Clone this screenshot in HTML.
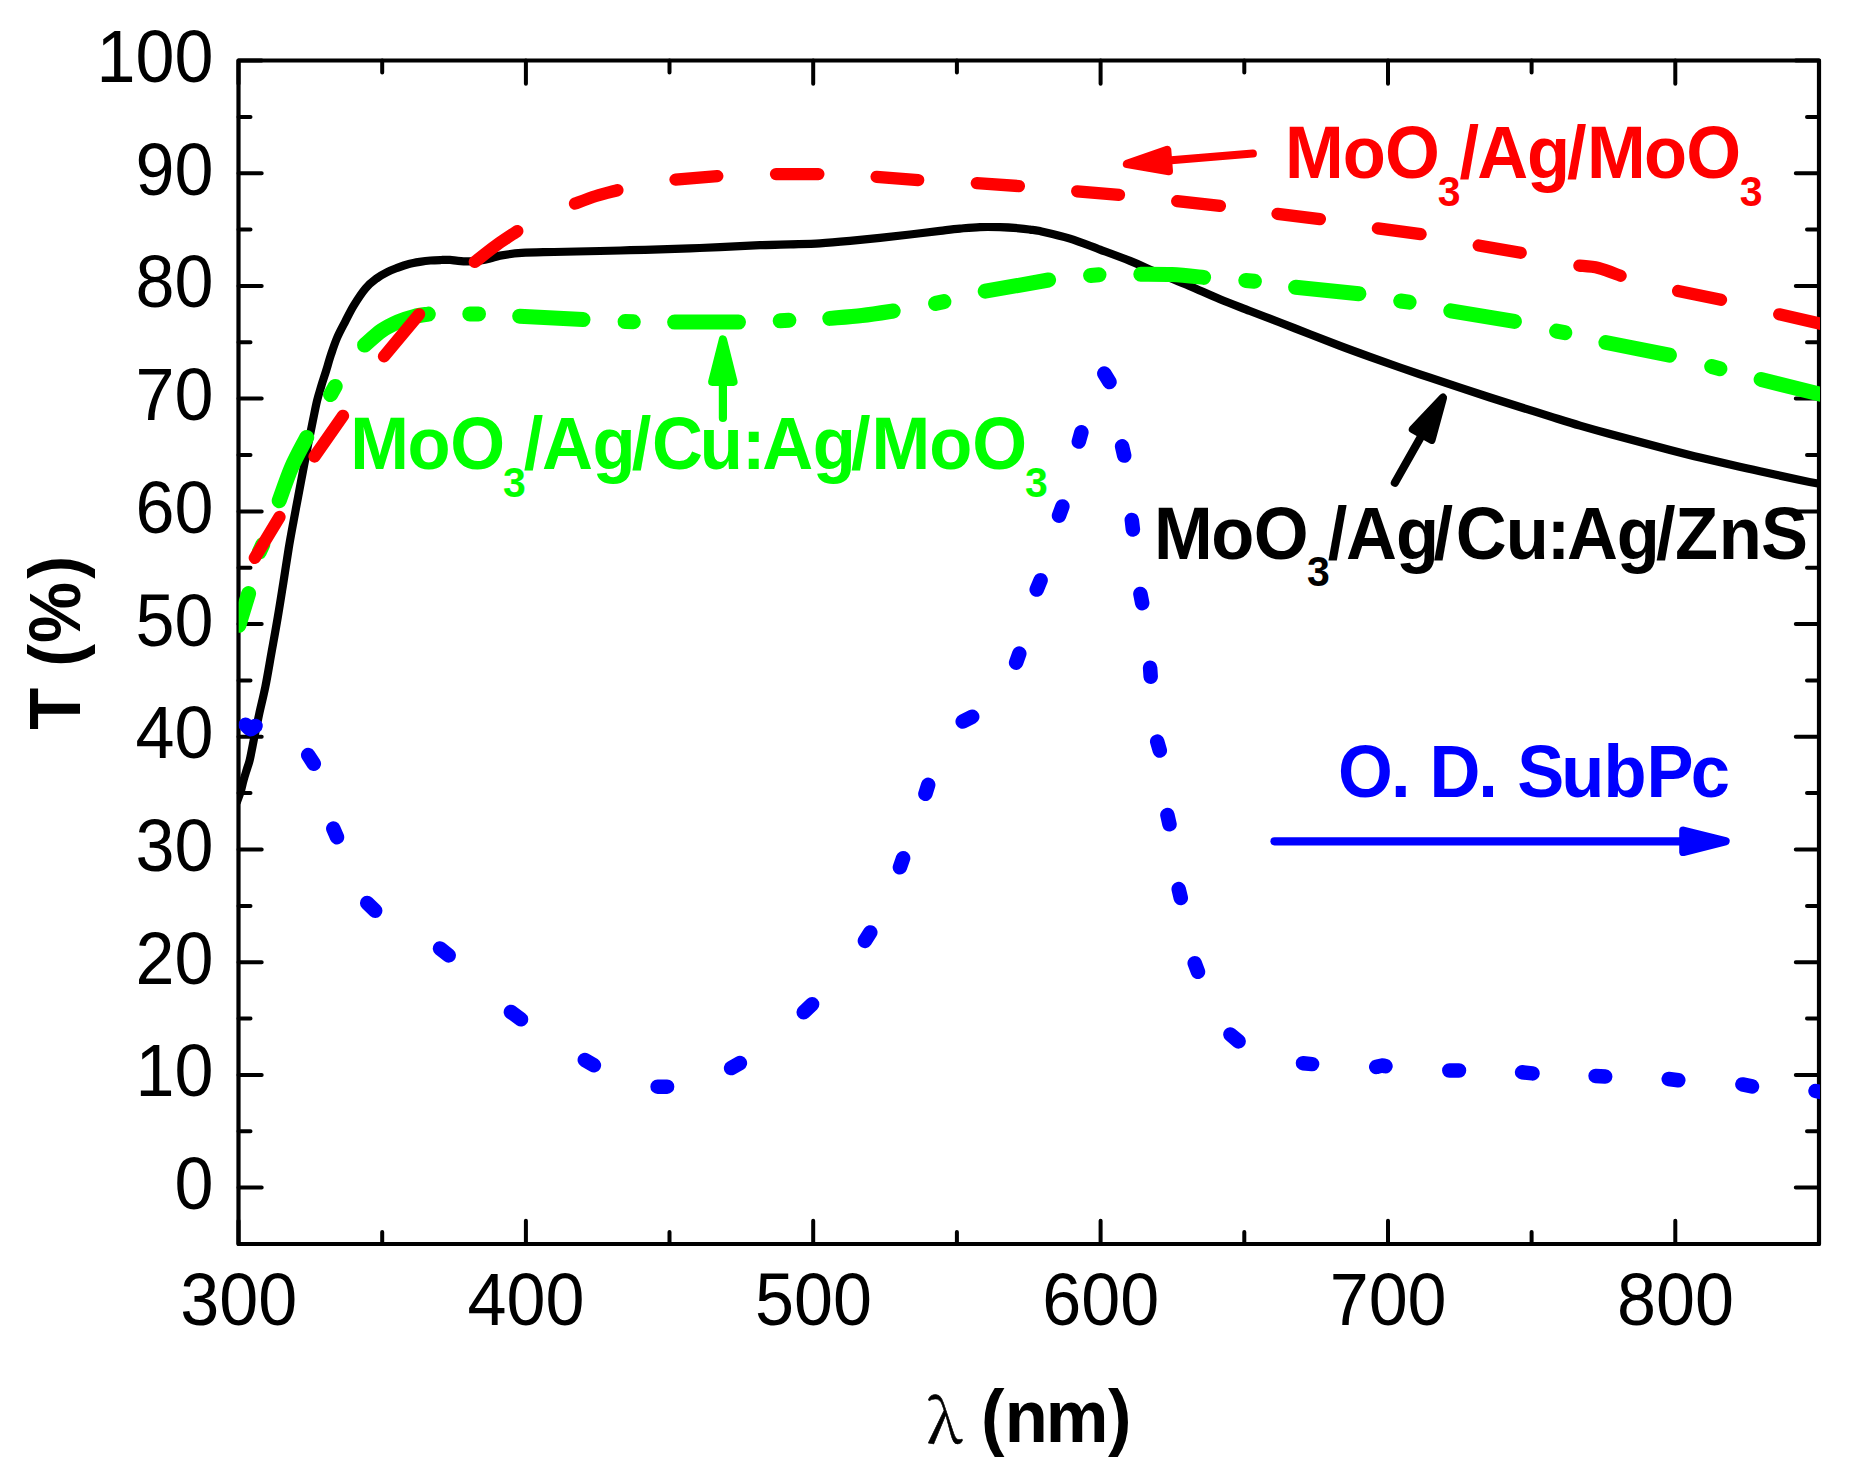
<!DOCTYPE html>
<html lang="en"><head><meta charset="utf-8"><title>Transmittance spectra</title>
<style>
html,body{margin:0;padding:0;background:#fff;}
body{width:1855px;height:1481px;overflow:hidden;}
svg{display:block;}
text{font-family:"Liberation Sans",Arial,Helvetica,sans-serif;}
text.sym{font-family:"Noto Serif CJK SC","Liberation Serif",serif;font-weight:normal;}
</style></head>
<body>
<svg width="1855" height="1481" viewBox="0 0 1855 1481">
<rect x="0" y="0" width="1855" height="1481" fill="#fff"/>
<defs><clipPath id="plot"><rect x="238.65" y="60.5" width="1581.35" height="1183.5"/></clipPath></defs>
<path d="M238.5 1244.0V1220.8M238.5 60.5V83.7M382.2 1244.0V1232.0M382.2 60.5V72.5M525.9 1244.0V1220.8M525.9 60.5V83.7M669.5 1244.0V1232.0M669.5 60.5V72.5M813.2 1244.0V1220.8M813.2 60.5V83.7M956.9 1244.0V1232.0M956.9 60.5V72.5M1100.6 1244.0V1220.8M1100.6 60.5V83.7M1244.3 1244.0V1232.0M1244.3 60.5V72.5M1388.0 1244.0V1220.8M1388.0 60.5V83.7M1531.6 1244.0V1232.0M1531.6 60.5V72.5M1675.3 1244.0V1220.8M1675.3 60.5V83.7M1819.0 1244.0V1232.0M1819.0 60.5V72.5M238.5 1187.6H261.7M1819.0 1187.6H1795.8M238.5 1131.3H250.5M1819.0 1131.3H1807.0M238.5 1074.9H261.7M1819.0 1074.9H1795.8M238.5 1018.6H250.5M1819.0 1018.6H1807.0M238.5 962.2H261.7M1819.0 962.2H1795.8M238.5 905.9H250.5M1819.0 905.9H1807.0M238.5 849.5H261.7M1819.0 849.5H1795.8M238.5 793.1H250.5M1819.0 793.1H1807.0M238.5 736.8H261.7M1819.0 736.8H1795.8M238.5 680.4H250.5M1819.0 680.4H1807.0M238.5 624.1H261.7M1819.0 624.1H1795.8M238.5 567.7H250.5M1819.0 567.7H1807.0M238.5 511.4H261.7M1819.0 511.4H1795.8M238.5 455.0H250.5M1819.0 455.0H1807.0M238.5 398.6H261.7M1819.0 398.6H1795.8M238.5 342.3H250.5M1819.0 342.3H1807.0M238.5 285.9H261.7M1819.0 285.9H1795.8M238.5 229.6H250.5M1819.0 229.6H1807.0M238.5 173.2H261.7M1819.0 173.2H1795.8M238.5 116.9H250.5M1819.0 116.9H1807.0M238.5 60.5H261.7M1819.0 60.5H1795.8" stroke="#000" stroke-width="4.0" stroke-linecap="round" fill="none"/>
<rect x="238.5" y="60.5" width="1580.5" height="1183.5" fill="none" stroke="#000" stroke-width="4.2" stroke-linejoin="round"/>
<g clip-path="url(#plot)">
<path d="M236.5 803.0C237.2 801.0 239.6 795.0 240.8 791.2C242.0 787.4 242.5 784.0 243.5 780.4C244.5 776.8 245.7 773.1 246.8 769.5C247.9 765.9 248.8 764.2 250.0 758.8C251.2 753.4 252.8 744.7 254.3 737.2C255.8 729.7 257.4 722.4 259.2 714.0C261.0 705.6 263.2 697.3 265.3 687.0C267.4 676.7 269.5 663.7 271.6 652.0C273.7 640.3 275.9 628.5 277.8 617.0C279.8 605.5 281.5 594.3 283.3 583.0C285.1 571.7 286.9 559.3 288.6 549.0C290.3 538.7 292.0 529.7 293.6 521.0C295.2 512.3 296.5 505.5 298.1 497.0C299.7 488.5 301.5 478.8 303.2 470.0C304.9 461.2 306.6 452.2 308.2 444.0C309.8 435.8 311.3 428.2 312.8 421.0C314.3 413.8 315.6 406.8 317.0 401.0C318.4 395.2 319.8 391.1 321.3 386.0C322.8 380.9 324.6 375.8 326.2 370.5C327.8 365.2 329.3 359.7 331.1 354.3C332.9 348.9 334.7 343.4 337.0 338.0C339.3 332.6 342.3 327.2 345.1 321.8C347.9 316.4 350.3 311.2 353.7 305.6C357.1 300.0 361.8 292.8 365.6 288.3C369.4 283.8 372.8 281.3 376.4 278.6C380.0 275.9 383.6 273.9 387.2 272.1C390.8 270.3 394.4 269.0 398.0 267.6C401.6 266.2 405.3 264.9 408.9 264.0C412.5 263.1 416.1 262.5 419.7 261.9C423.3 261.3 426.9 260.8 430.5 260.5C434.1 260.2 438.1 260.1 441.3 260.0C444.6 259.9 447.2 259.8 450.0 259.9C452.8 260.0 454.9 260.6 458.0 260.8C461.1 261.1 464.8 261.4 468.3 261.4C471.8 261.4 475.5 261.2 479.1 260.7C482.7 260.2 486.5 259.5 490.0 258.6C493.5 257.8 494.8 256.6 500.1 255.6C505.4 254.6 512.7 253.5 521.7 252.9C530.7 252.3 541.1 252.3 554.1 252.0C567.1 251.7 587.4 251.3 600.0 251.0C612.6 250.7 620.0 250.5 630.0 250.2C640.0 249.9 650.0 249.7 660.0 249.4C670.0 249.1 680.0 248.8 690.0 248.4C700.0 248.0 708.3 247.7 720.0 247.2C731.7 246.7 748.3 245.7 760.0 245.2C771.7 244.7 780.0 244.6 790.0 244.3C800.0 244.0 810.0 243.9 820.0 243.3C830.0 242.7 840.0 241.8 850.0 240.9C860.0 240.0 870.0 239.0 880.0 237.9C890.0 236.8 900.0 235.7 910.0 234.5C920.0 233.3 931.7 231.9 940.0 230.9C948.3 229.9 953.3 229.2 960.0 228.6C966.7 228.0 973.3 227.3 980.0 227.1C986.7 226.9 993.5 227.0 1000.0 227.2C1006.5 227.4 1013.9 227.9 1018.9 228.3C1023.9 228.7 1026.5 229.1 1030.0 229.6C1033.5 230.1 1033.3 229.6 1040.0 231.1C1046.7 232.6 1060.0 235.5 1070.0 238.6C1080.0 241.7 1090.0 245.9 1100.0 249.6C1110.0 253.3 1121.6 257.5 1130.0 260.9C1138.4 264.2 1143.5 266.8 1150.2 269.7C1156.9 272.6 1163.0 275.1 1170.0 278.0C1177.0 280.9 1184.1 283.6 1192.4 287.2C1200.7 290.8 1210.4 295.3 1220.0 299.3C1229.6 303.3 1240.0 307.1 1250.0 311.0C1260.0 314.9 1270.0 318.6 1280.0 322.5C1290.0 326.4 1300.0 330.4 1310.0 334.3C1320.0 338.2 1330.0 342.1 1340.0 345.9C1350.0 349.7 1360.0 353.3 1370.0 356.9C1380.0 360.5 1390.0 364.0 1400.0 367.5C1410.0 371.0 1420.0 374.3 1430.0 377.7C1440.0 381.1 1450.0 384.4 1460.0 387.7C1470.0 391.0 1480.0 394.3 1490.0 397.5C1500.0 400.7 1510.0 403.9 1520.0 407.0C1530.0 410.1 1540.0 413.3 1550.0 416.4C1560.0 419.5 1570.0 422.7 1580.0 425.6C1590.0 428.5 1600.0 431.3 1610.0 434.0C1620.0 436.7 1630.0 439.3 1640.0 442.0C1650.0 444.7 1660.0 447.4 1670.0 450.0C1680.0 452.6 1690.0 455.2 1700.0 457.6C1710.0 460.0 1720.0 462.3 1730.0 464.6C1740.0 466.9 1748.3 468.8 1760.0 471.3C1771.7 473.9 1789.7 477.7 1800.0 479.9C1810.3 482.1 1818.3 483.6 1822.0 484.3" fill="none" stroke="#000" stroke-width="8.2" stroke-linejoin="round" stroke-linecap="butt"/>
<path d="M245.6 724.8C246.4 725.5 248.8 729.0 250.5 729.2C252.2 729.4 254.7 726.5 255.5 725.9M308.2 755.1L313.8 763.7M333.3 828.6L337.0 837.2M367.2 903.1L375.2 910.7M440.0 948.5L448.7 955.4M510.9 1012.0L521.0 1019.3M584.8 1059.9L593.9 1065.3M657.6 1086.7L667.1 1086.7M731.1 1068.1L739.9 1063.1M803.7 1012.3L812.1 1004.3M864.9 940.9L870.3 932.4M899.9 867.3L903.1 858.2M925.4 793.8L928.2 784.8M962.7 721.5L972.2 716.7M1016.1 662.7L1019.3 653.6M1036.7 589.6L1040.6 580.3M1059.0 515.7L1062.4 506.4M1078.8 441.6L1081.4 432.3M1104.3 373.5L1109.5 382.1M1122.1 446.3L1124.2 455.6M1131.8 520.0L1132.9 529.5M1140.4 593.9L1142.2 603.2M1150.1 667.7L1150.7 676.7M1157.2 741.6L1159.8 750.6M1167.4 815.0L1169.5 824.3M1178.7 889.1L1180.8 898.0M1194.7 963.2L1198.0 971.8M1230.4 1034.5L1238.6 1041.4M1303.0 1063.2L1312.1 1064.1M1376.2 1066.9C1377.2 1066.7 1380.8 1065.5 1382.3 1065.4C1383.8 1065.3 1385.0 1066.1 1385.5 1066.2M1449.3 1070.5L1459.0 1070.5M1522.1 1072.3L1532.5 1073.4M1595.6 1076.0L1605.2 1076.6M1668.7 1079.0L1678.3 1080.2M1742.4 1084.4L1752.0 1086.4M1815.5 1091.0L1826.0 1093.0" fill="none" stroke="#0000ff" stroke-width="14.5" stroke-linecap="round" stroke-linejoin="round"/>
<path d="M238.9 625.3L248.6 593.6M259.3 552.0L262.8 544.5M279.2 500.7C281.3 495.1 287.0 477.8 291.6 467.2C296.2 456.6 304.2 442.4 306.7 437.4M330.6 394.6L335.2 386.4M364.6 345.1C367.5 342.7 376.2 334.4 381.8 330.5C387.4 326.6 392.6 324.2 398.0 321.8C403.4 319.4 409.2 317.7 414.3 316.4C419.4 315.1 426.0 314.5 428.3 314.1M469.8 313.9L478.5 313.9M519.7 316.2L583.0 319.6M625.1 321.6L633.3 321.8M674.6 322.1L738.5 322.1M780.2 320.8L788.9 320.3M829.8 318.4C835.2 317.9 851.4 316.7 862.0 315.5C872.6 314.3 888.0 311.8 893.2 311.0M935.6 303.4L943.9 301.6M985.2 291.2L1048.6 280.0M1090.6 275.4L1099.0 274.8M1140.8 274.2C1146.0 274.3 1161.5 274.1 1172.0 274.6C1182.5 275.1 1198.3 276.9 1203.6 277.4M1245.8 280.5L1254.4 281.3M1295.6 287.2L1358.9 293.8M1400.7 301.0L1409.1 302.2M1450.8 310.8L1514.4 321.4M1556.6 331.1L1564.8 332.7M1605.9 342.5L1669.4 355.2M1711.7 366.5L1719.9 368.7M1761.1 379.5L1826.0 395.6" fill="none" stroke="#00ff00" stroke-width="15.0" stroke-linecap="round" stroke-linejoin="round"/>
<path d="M254.8 557.9L279.5 517.0M314.5 456.5L343.0 415.8M384.0 356.4L419.1 314.3M474.8 261.9C478.3 259.2 488.9 250.6 496.0 245.5C503.1 240.4 513.8 233.5 517.3 231.1M575.0 203.6C578.5 202.3 588.9 198.2 596.0 196.0C603.1 193.8 613.8 191.2 617.4 190.2M675.5 179.6L717.3 176.1M776.0 174.1L818.4 174.1M876.6 176.8L918.2 180.1M976.8 183.1L1018.9 186.1M1077.2 191.3L1119.0 194.8M1177.2 201.2L1219.9 205.9M1277.5 213.8L1319.9 219.1M1377.9 228.4L1420.6 234.2M1478.7 245.5L1520.7 252.8M1579.4 265.6C1582.6 266.0 1591.6 266.3 1598.5 268.0C1605.4 269.7 1616.9 274.5 1620.6 275.8M1678.1 291.0L1721.0 299.8M1779.2 314.3L1824.0 324.5" fill="none" stroke="#ff0000" stroke-width="12.3" stroke-linecap="round" stroke-linejoin="round"/>
</g>
<g>
<path d="M1252.8 153.5L1168.1 160.5" stroke="#ff0000" stroke-width="8.2" stroke-linecap="round" fill="none"/><path d="M1126.9 163.9L1167.2 149.9L1168.9 171.1Z" fill="#ff0000" stroke="#ff0000" stroke-width="8.2" stroke-linejoin="round"/>
<path d="M722.9 417.9L722.9 381.8" stroke="#00ff00" stroke-width="8.2" stroke-linecap="round" fill="none"/><path d="M722.9 339.5L733.5 381.8L712.2 381.8Z" fill="#00ff00" stroke="#00ff00" stroke-width="8.2" stroke-linejoin="round"/>
<path d="M1394.9 482.8L1422.2 434.5" stroke="#000" stroke-width="8.2" stroke-linecap="round" fill="none"/><path d="M1443.0 397.7L1431.5 439.8L1412.9 429.3Z" fill="#000" stroke="#000" stroke-width="8.2" stroke-linejoin="round"/>
<path d="M1274.5 841.3L1683.3 841.3" stroke="#0000ff" stroke-width="8.2" stroke-linecap="round" fill="none"/><path d="M1725.6 841.3L1683.3 851.9L1683.3 830.6Z" fill="#0000ff" stroke="#0000ff" stroke-width="8.2" stroke-linejoin="round"/>
</g>
<g font-size="73.7" fill="#000" text-anchor="end" transform="scale(0.9510 1)">
<text x="224.50" y="1209.1">0</text><text x="224.50" y="1096.4">10</text><text x="224.50" y="983.7">20</text><text x="224.50" y="871.0">30</text><text x="224.50" y="758.3">40</text><text x="224.50" y="645.6">50</text><text x="224.50" y="532.9">60</text><text x="224.50" y="420.1">70</text><text x="224.50" y="307.4">80</text><text x="224.50" y="194.7">90</text><text x="224.50" y="82.0">100</text>
</g>
<g font-size="73.7" fill="#000" text-anchor="middle" transform="scale(0.9510 1)">
<text x="251.00" y="1325.3">300</text><text x="553.17" y="1325.3">400</text><text x="855.34" y="1325.3">500</text><text x="1157.51" y="1325.3">600</text><text x="1459.68" y="1325.3">700</text><text x="1761.85" y="1325.3">800</text>
</g>
<text transform="translate(79.8 0) rotate(-90) scale(0.9400 1)" x="-776.46 -728.72 -709.38 -684.16 -615.60" y="0" font-size="73.0" font-weight="bold" fill="#000">T (%)</text>
<text class="sym" x="927.0" y="1442.9" font-size="60.5" fill="#000" stroke="#000" stroke-width="0.6">λ</text>
<text transform="scale(0.9480 1)" x="1034.90 1059.86 1103.11 1168.70" y="1442.4" font-size="74.4" font-weight="bold" fill="#000">(nm)</text>
<text transform="scale(0.9480 1)" font-weight="bold" fill="#ff0000"><tspan x="1355.57 1416.50 1460.98" y="178.3" font-size="74.4">MoO</tspan><tspan x="1516.62" y="206.1" font-size="43.3">3</tspan><tspan x="1539.46 1558.27 1610.66 1652.97 1674.14 1734.22 1778.80" y="178.3" font-size="74.4">/Ag/MoO</tspan><tspan x="1835.19" y="206.1" font-size="43.3">3</tspan></text>
<text transform="scale(0.9480 1)" font-weight="bold" fill="#00ff00"><tspan x="369.60 429.79 474.90" y="469.2" font-size="74.4">MoO</tspan><tspan x="530.65" y="497.0" font-size="43.3">3</tspan><tspan x="552.44 571.78 625.01 666.47 687.88 738.11 782.61 804.16 857.29 897.69 919.18 980.32 1025.53" y="469.2" font-size="74.4">/Ag/Cu:Ag/MoO</tspan><tspan x="1081.28" y="497.0" font-size="43.3">3</tspan></text>
<text transform="scale(0.9480 1)" font-weight="bold" fill="#000"><tspan x="1217.39 1277.68 1322.48" y="558.6" font-size="74.4">MoO</tspan><tspan x="1378.75" y="586.4" font-size="43.3">3</tspan><tspan x="1400.54 1419.88 1472.48 1512.25 1535.66 1588.42 1631.56 1652.89 1705.49 1746.74 1766.77 1813.03 1857.56" y="558.6" font-size="74.4">/Ag/Cu:Ag/ZnS</tspan></text>
<text transform="scale(0.9480 1)" x="1411.29 1467.31 1487.34 1508.00 1559.30 1579.11 1600.39 1646.86 1691.51 1736.80 1783.59" y="797.0" font-size="74.4" font-weight="bold" fill="#0000ff">O. D. SubPc</text>
</svg>
</body></html>
